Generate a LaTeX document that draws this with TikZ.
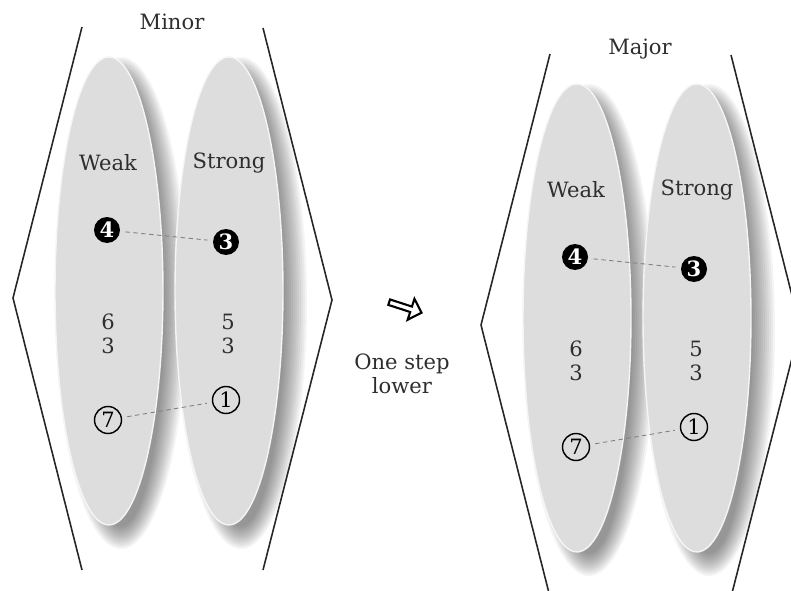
\documentclass[tikz,border=0pt]{standalone}
\usepackage{fontspec}
\setmainfont{DejaVu Serif}
\usetikzlibrary{shapes.geometric,shapes.arrows}

\definecolor{lobegray}{HTML}{DDDDDD}
\definecolor{inkgray}{HTML}{2E2E2E}

\begin{document}
\begin{tikzpicture}[
  x=0.02cm, y=-0.02cm,
  lobe/.style={ellipse,fill=lobegray,draw=white!70!lobegray,line width=0.8pt,
               minimum width=2.16cm,minimum height=9.36cm,inner sep=0},
  heading/.style={text=inkgray,font=\large,inner sep=1pt},
  chordnum/.style={text=inkgray,font=\large,align=center,inner sep=0},
  dark/.style={circle,fill=black,text=white,font=\large\bfseries,
               minimum size=0.52cm,inner sep=0},
  ring/.style={circle,draw=black,line width=0.8pt,text=black,font=\large,
               minimum size=0.54cm,inner sep=0},
  link/.style={gray,dash pattern=on 2.5pt off 2pt,line width=0.5pt,
               shorten <=3pt,shorten >=3pt},
  side/.style={line width=0.9pt,black!85}
]
  \path[use as bounding box,clip] (0,0) rectangle (791,591);

  % one block per mode, the second one moved right and down
  \foreach \dx/\dy/\mode/\g in {0/0/Minor/mi,468/27/Major/ma}{
    \begin{scope}[shift={(\dx,\dy)}]
      % soft shadows behind the two lobes
      \foreach \cx in {109,229}
        \foreach \k in {0,...,11}
          \fill[black,opacity=0.045] (\cx+12,303)
            ellipse [x radius={66-2*\k},y radius={246-2*\k}];

      \node[lobe] (\g-wk) at (109,291) {};
      \node[lobe] (\g-st) at (229,291) {};

      \node[heading] (\g-title) at (172,22)  {\mode};
      \node[heading] (\g-wlab)  at (108,163) {Weak};
      \node[heading] (\g-slab)  at (229,163) {Strong};

      \node[dark] (\g-four)  at (107,230) {4};
      \node[dark] (\g-three) at (226,242) {3};
      \node[chordnum] (\g-six)  at (108,334) {6\\3};
      \node[chordnum] (\g-five) at (228,334) {5\\3};
      \node[ring] (\g-seven) at (108,420) {7};
      \node[ring] (\g-one)   at (226,400) {1};

      \draw[link] (\g-four) -- (\g-three);
      \draw[link] (\g-seven) -- (\g-one);

      % angle brackets round the pair
      \draw[side] (82,27) -- (13,298) -- (82,570);
      \draw[side] (263,28) -- (332,300) -- (263,570);
    \end{scope}
  }

  \node[single arrow,draw,line width=1.2pt,minimum height=0.68cm,
        minimum width=0.44cm,single arrow head extend=0.06cm,
        inner sep=0,rotate=-18] (shift) at (404,307) {};
  \node[heading,align=center] (step) at (402,374) {One step\\lower};
\end{tikzpicture}
\end{document}
